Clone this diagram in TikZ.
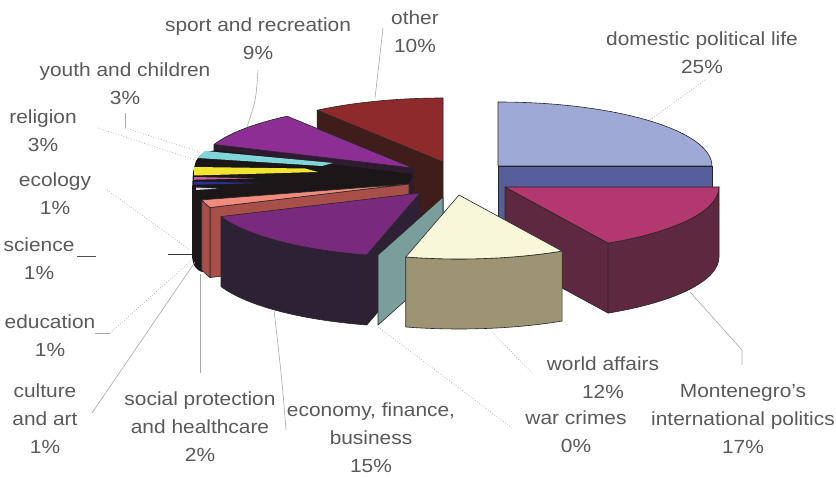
\documentclass[tikz,border=0pt]{standalone}
\usepackage{fontspec}
\setmainfont{Liberation Sans}[FakeStretch=1.1]
\definecolor{domtop}{HTML}{9FA9D6}
\definecolor{domside}{HTML}{575F9B}
\definecolor{montop}{HTML}{B3386F}
\definecolor{monside}{HTML}{5F2841}
\definecolor{wldtop}{HTML}{F9F7D9}
\definecolor{wldside}{HTML}{9C9473}
\definecolor{warcol}{HTML}{7A9E9C}
\definecolor{ecotop}{HTML}{7A2A7E}
\definecolor{ecoside}{HTML}{2E2135}
\definecolor{soctop}{HTML}{F28A7E}
\definecolor{socside}{HTML}{A94F4A}
\definecolor{sprtop}{HTML}{8D2E94}
\definecolor{sprside}{HTML}{2E1B30}
\definecolor{othtop}{HTML}{8E2A2C}
\definecolor{othside}{HTML}{3E1D1B}
\definecolor{blobcol}{HTML}{1B1719}
\definecolor{cyancol}{HTML}{80D6D6}
\definecolor{yelcol}{HTML}{F2E530}
\definecolor{pinkcol}{HTML}{C060A0}
\definecolor{navycol}{HTML}{2A3090}
\definecolor{whitecol}{HTML}{D4D4E4}
\definecolor{lblcol}{HTML}{5A5A5A}
\definecolor{leadcol}{HTML}{A8A8A8}
\newcommand\ptop[3]{\filldraw[#3] (0,0) -- (#1:214pt and 64pt) arc[start angle=#1,end angle=#2,x radius=214pt,y radius=64pt] -- cycle;}
\newcommand\pradial[2]{\filldraw[#2] (0,0) -- (#1:214pt and 64pt) -- ++(0pt,-70pt) -- (0pt,-70pt) -- cycle;}
\newcommand\pouter[3]{\filldraw[#3] (#1:214pt and 64pt) arc[start angle=#1,end angle=#2,x radius=214pt,y radius=64pt] -- ++(0pt,-70pt) arc[start angle=#2,end angle=#1,x radius=214pt,y radius=64pt] -- cycle;}
\tikzset{
  face/.style={draw=black!85, line width=0.6pt, line join=round},
  lbl/.style={font=\fontsize{19}{28}\selectfont, text=lblcol, align=center, inner sep=0pt},
  lead/.style={draw=leadcol, line width=0.6pt},
  leaddot/.style={draw=leadcol, line width=0.7pt, dotted},
}
\begin{document}
\begin{tikzpicture}[x=1pt,y=-1pt]
\useasboundingbox (0,0) rectangle (836,478);
\fill[white] (0,0) rectangle (836,478);
% domestic political life
\begin{scope}[shift={(498,166)}]
  \pradial{0}{face,fill=domside}
  \ptop{0}{90}{face,fill=domtop}
\end{scope}
% Montenegro's international politics
\begin{scope}[shift={(505,187)}]
  \pradial{-61.2}{face,fill=monside}
  \pouter{-61.2}{0}{face,fill=monside}
  \ptop{-61.2}{0}{face,fill=montop}
\end{scope}
% other
\begin{scope}[shift={(443,162)}]
  \pradial{126}{face,fill=othside}
  \ptop{90}{126}{face,fill=othtop}
\end{scope}
% sport and recreation
\begin{scope}[shift={(413,168)}]
  \pradial{158.4}{face,fill=sprside}
  \ptop{126}{158.4}{face,fill=sprtop}
\end{scope}
% small slices (dark sides)
\fill[blobcol, rounded corners=3pt] (413,174) -- (216,150) -- (203,153) -- (196,160) -- (193,172) -- (192,190) -- (192,258) -- (194,266) -- (200,272) -- (206,272) -- (206,200) -- (409,185) -- cycle;
\fill[cyancol] (205,151) -- (333,163) -- (322,166) -- (198,158) -- cycle;
\fill[yelcol] (194,167) -- (305,168.5) -- (318,172) -- (194,175.5) -- cycle;
\fill[pinkcol] (194,177) -- (255,178.3) -- (194,179.8) -- cycle;
\fill[navycol] (194,181.5) -- (262,183) -- (194,184.8) -- cycle;
\fill[whitecol] (196,187.5) -- (218,188.6) -- (196,190) -- cycle;
% social protection and healthcare
\begin{scope}[shift={(409,184)}]
  \pradial{201.6}{face,fill=socside}
  \pouter{194.4}{201.6}{face,fill=socside}
  \ptop{194.4}{201.6}{face,fill=soctop}
\end{scope}
% economy, finance, business
\begin{scope}[shift={(420,193)}]
  \pradial{255.6}{face,fill=ecoside}
  \pouter{201.6}{255.6}{face,fill=ecoside}
  \ptop{201.6}{255.6}{face,fill=ecotop}
\end{scope}
% war crimes
\filldraw[face,fill=warcol] (443,197) -- (378,255) -- (378,325) -- (443,267) -- cycle;
% world affairs
\begin{scope}[shift={(459,195)}]
  \pouter{255.6}{298.8}{face,fill=wldside}
  \ptop{255.6}{298.8}{face,fill=wldtop}
\end{scope}

% labels
\node[lbl] (sport) at (258,39) {sport and recreation\\9\%};
\node[lbl] (other) at (415,32) {other\\10\%};
\node[lbl] (dom) at (702,53) {domestic political life\\25\%};
\node[lbl] (youth) at (125,84) {youth and children\\3\%};
\node[lbl] (rel) at (43,131) {religion\\3\%};
\node[lbl] (eco) at (55,194) {ecology\\1\%};
\node[lbl] (sci) at (39,259) {science\\1\%};
\node[lbl] (edu) at (50,336) {education\\1\%};
\node[lbl] (cult) at (45,419) {culture\\and art\\1\%};
\node[lbl] (soc) at (200,427) {social protection\\and healthcare\\2\%};
\node[lbl] (econ) at (371,438) {economy, finance,\\business\\15\%};
\node[lbl] (world) at (603,378) {world affairs\\12\%};
\node[lbl] (war) at (576,432) {war crimes\\0\%};
\node[lbl] (mont) at (743,419) {Montenegro's\\international politics\\17\%};

% leader line end points
\coordinate (sportA) at (258,70); \coordinate (sportB) at (247,127);
\coordinate (otherA) at (383,28); \coordinate (otherB) at (375,98);
\coordinate (domA) at (705,80); \coordinate (domB) at (650,120);
\coordinate (youthA) at (125,113); \coordinate (youthB) at (125,128); \coordinate (youthC) at (200,152);
\coordinate (relA) at (98,128); \coordinate (relB) at (195,160);
\coordinate (ecoA) at (107,190); \coordinate (ecoB) at (190,250);
\coordinate (sciA) at (77,256); \coordinate (sciB) at (96,256);
\coordinate (sciC) at (168,254); \coordinate (sciD) at (192,254);
\coordinate (eduA) at (95,333); \coordinate (eduB) at (110,333); \coordinate (eduC) at (192,260);
\coordinate (cultA) at (92,413); \coordinate (cultB) at (195,262);
\coordinate (socA) at (200,274); \coordinate (socB) at (200,373);
\coordinate (econA) at (274,310); \coordinate (econB) at (286,430);
\coordinate (warA) at (378,327); \coordinate (warB) at (512,428);
\coordinate (worldA) at (492,332); \coordinate (worldB) at (532,373);
\coordinate (montA) at (690,292); \coordinate (montB) at (742,350); \coordinate (montC) at (742,365);

\draw[lead] (sportA) .. controls (256,100) .. (sportB);
\draw[lead] (otherA) -- (otherB);
\draw[leaddot] (domA) -- (domB);
\draw[lead] (youthA) -- (youthB);
\draw[leaddot] (youthB) -- (youthC);
\draw[leaddot] (relA) -- (relB);
\draw[leaddot] (ecoA) -- (ecoB);
\draw[draw=black!70, line width=0.8pt] (sciA) -- (sciB);
\draw[draw=black!80, line width=0.9pt] (sciC) -- (sciD);
\draw[lead] (eduA) -- (eduB);
\draw[leaddot] (eduB) -- (eduC);
\draw[lead] (cultA) -- (cultB);
\draw[lead] (socA) -- (socB);
\draw[lead] (econA) .. controls (282,380) .. (econB);
\draw[leaddot] (warA) -- (warB);
\draw[leaddot] (worldA) -- (worldB);
\draw[lead] (montA) -- (montB) -- (montC);
\end{tikzpicture}
\end{document}
